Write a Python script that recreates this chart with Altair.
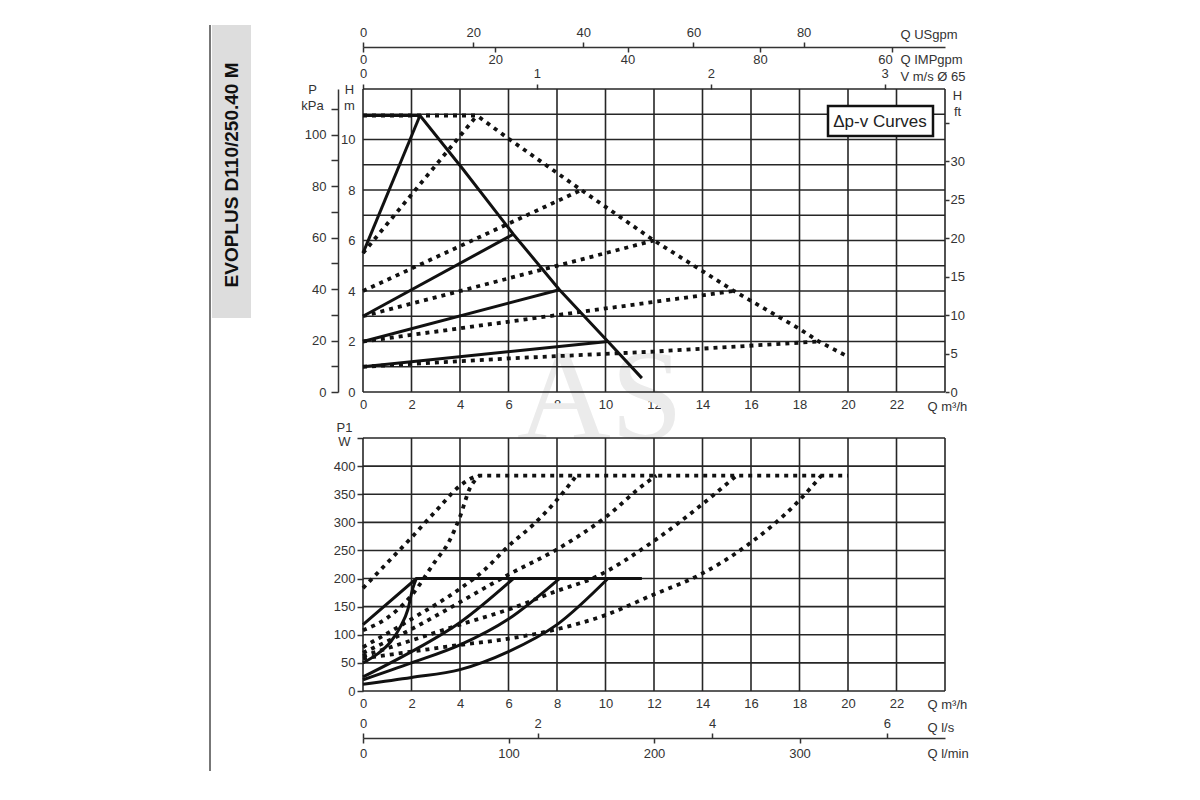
import altair as alt
import pandas as pd

# --- axis ticks / grid ---
q_grid = list(range(0, 25, 2))
q_labels = list(range(0, 23, 2))
h_grid = list(range(0, 13))
w_grid = list(range(0, 451, 50))
kpa_ticks = list(range(0, 111, 10))
ft_ticks = list(range(0, 36, 5))
usgpm_ticks = [0, 20, 40, 60, 80]
impgpm_ticks = [0, 20, 40, 60, 80]
vms_ticks = [0, 1, 2, 3]
ls_ticks = [0, 2, 4, 6]
lmin_ticks = [0, 100, 200, 300]

# --- upper diagram: H [m] over Q [m3/h] ---
top_max_q = [0, 2.35, 4.1, 6.2, 8.1, 10.1, 11.5]
top_max_h = [10.95, 10.95, 8.85, 6.25, 4.05, 2.0, 0.55]
top_s1_q, top_s1_h = [0, 2.35], [5.5, 10.95]
top_s2_q, top_s2_h = [0, 6.2], [3.0, 6.25]
top_s3_q, top_s3_h = [0, 8.1], [2.0, 4.05]
top_s4_q, top_s4_h = [0, 10.1], [1.0, 2.0]

top_dmax_q = [0, 4.7, 6.05, 9.0, 12.0, 15.3, 18.0, 18.8, 20.0]
top_dmax_h = [10.95, 10.95, 10.0, 8.0, 6.0, 4.0, 2.5, 2.0, 1.4]
top_d1_q, top_d1_h = [0, 4.7], [5.5, 10.95]
top_d2_q, top_d2_h = [0, 9.0], [4.0, 8.0]
top_d3_q, top_d3_h = [0, 12.0], [3.0, 6.0]
top_d4_q, top_d4_h = [0, 15.3], [2.0, 4.0]
top_d5_q, top_d5_h = [0, 6, 12, 18.8], [1.0, 1.33, 1.6, 2.0]

# --- lower diagram: P1 [W] over Q [m3/h] ---
bot_max_q, bot_max_p = [0, 2.2, 11.5], [118, 200, 200]
bot_s1_q = [0, 0.6, 1.15, 1.55, 1.85, 2.05, 2.2]
bot_s1_p = [50, 66, 88, 115, 145, 182, 200]
bot_s2_q, bot_s2_p = [0, 2, 4, 6.2], [25, 70, 122, 200]
bot_s3_q, bot_s3_p = [0, 2, 4, 6, 8.1], [20, 50, 82, 128, 200]
bot_s4_q, bot_s4_p = [0, 2, 4, 6, 8, 10.1], [12, 24, 38, 70, 118, 200]

bot_dmax_q = [0, 1, 2, 3, 4, 4.4, 4.8, 20]
bot_dmax_p = [183, 228, 273, 320, 365, 377, 383, 383]
bot_d1_q = [0, 1, 2, 3, 3.5, 4, 4.4, 4.8]
bot_d1_p = [108, 130, 170, 232, 262, 310, 360, 383]
bot_d2_q = [0, 2, 4, 5, 6, 7, 8, 8.8]
bot_d2_p = [78, 128, 182, 215, 258, 295, 340, 383]
bot_d3_q = [0, 2, 4, 6, 8, 10, 11.7, 12.1]
bot_d3_p = [68, 110, 158, 207, 252, 309, 371, 383]
bot_d4_q = [0, 2, 4, 6, 8, 9.5, 11.9, 13.9, 15.4]
bot_d4_p = [62, 90, 118, 145, 178, 201, 264, 329, 383]
bot_d5_q = [0, 2, 4, 6, 8, 10, 11.9, 13.9, 15.9, 17.9, 18.9]
bot_d5_p = [58, 70, 82, 93, 110, 135, 170, 207, 261, 335, 383]

# unit conversions (per 1 m3/h resp. 1 m)
KPA_PER_M = 9.81
FT_PER_M = 3.2808
USGPM = 4.4029
IMPGPM = 3.6661
M3H_PER_MS = 7.17
LS = 1 / 3.6
LMIN = 1000 / 60

Q_MAX, H_MAX, W_MAX = 24, 12, 450
W, H = 582, 602
TOP_H = 303


def table(curves, ycol):
    rows = []
    for name, qs, vs in curves:
        for i, (q, v) in enumerate(zip(qs, vs)):
            rows.append({"curve": name, "q": q, ycol: v, "i": i})
    return pd.DataFrame(rows)


top_solid = table([("max", top_max_q, top_max_h), ("s1", top_s1_q, top_s1_h),
                   ("s2", top_s2_q, top_s2_h), ("s3", top_s3_q, top_s3_h),
                   ("s4", top_s4_q, top_s4_h)], "h")
top_dotted = table([("max", top_dmax_q, top_dmax_h), ("d1", top_d1_q, top_d1_h),
                    ("d2", top_d2_q, top_d2_h), ("d3", top_d3_q, top_d3_h),
                    ("d4", top_d4_q, top_d4_h), ("d5", top_d5_q, top_d5_h)], "h")
bot_line = table([("max", bot_max_q, bot_max_p)], "p")
bot_solid = table([("s1", bot_s1_q, bot_s1_p), ("s2", bot_s2_q, bot_s2_p),
                   ("s3", bot_s3_q, bot_s3_p), ("s4", bot_s4_q, bot_s4_p)], "p")
bot_dotted = table([("max", bot_dmax_q, bot_dmax_p), ("d1", bot_d1_q, bot_d1_p),
                    ("d2", bot_d2_q, bot_d2_p), ("d3", bot_d3_q, bot_d3_p),
                    ("d4", bot_d4_q, bot_d4_p), ("d5", bot_d5_q, bot_d5_p)], "p")

Q_SCALE = alt.Scale(domain=[0, Q_MAX], nice=False)
H_SCALE = alt.Scale(domain=[0, H_MAX], range=[TOP_H, 0], nice=False)
W_SCALE = alt.Scale(domain=[0, W_MAX], range=[H, H - 253], nice=False)

INK = "#111111"
GRID = "#262626"
FONT = "Liberation Sans"


def lines(df, ycol, scale, dotted, interp="linear"):
    kw = dict(color=INK, strokeWidth=3, interpolate=interp, strokeCap="butt")
    if dotted:
        kw.update(strokeDash=[4, 5], strokeWidth=3.8)
    return alt.Chart(df).mark_line(**kw).encode(
        x=alt.X("q:Q", scale=Q_SCALE, axis=None),
        y=alt.Y(f"{ycol}:Q", scale=scale, axis=None),
        detail="curve:N",
        order="i:Q",
    )


def title_axis(**kw):
    base = dict(titleAngle=0, titleFontWeight="normal")
    base.update(kw)
    return alt.Axis(**base)


# --- grids with the main axes ---
top_vgrid = alt.Chart(pd.DataFrame({"q": q_grid, "lo": 0, "hi": H_MAX})).mark_rule(
    color=GRID, strokeWidth=1.6).encode(
    x=alt.X("q:Q", scale=Q_SCALE, axis=title_axis(
        orient="bottom", offset=TOP_H - H, values=q_labels, ticks=False, domain=False,
        labelPadding=6, title="Q m³/h", titleAlign="left", titleBaseline="alphabetic",
        titleX=564, titleY=18)),
    y=alt.Y("lo:Q", scale=H_SCALE, axis=None), y2="hi:Q")

top_hgrid = alt.Chart(pd.DataFrame({"h": h_grid, "lo": 0, "hi": Q_MAX})).mark_rule(
    color=GRID, strokeWidth=1.6).encode(
    y=alt.Y("h:Q", scale=H_SCALE, axis=title_axis(
        orient="left", values=h_grid, ticks=False, domain=False, labelPadding=8,
        labelExpr="datum.value % 2 == 0 && datum.value <= 10 ? datum.label : ''",
        title=["H", "m"], titleAlign="center", titleBaseline="top",
        titleX=-14, titleY=-6, titleLineHeight=16)),
    x=alt.X("lo:Q", scale=Q_SCALE, axis=None), x2="hi:Q")

bot_vgrid = alt.Chart(pd.DataFrame({"q": q_grid, "lo": 0, "hi": W_MAX})).mark_rule(
    color=GRID, strokeWidth=1.6).encode(
    x=alt.X("q:Q", scale=Q_SCALE, axis=title_axis(
        orient="bottom", values=q_labels, ticks=False, domain=False, labelPadding=6,
        title="Q m³/h", titleAlign="left", titleBaseline="alphabetic",
        titleX=564, titleY=17)),
    y=alt.Y("lo:Q", scale=W_SCALE, axis=None), y2="hi:Q")

bot_hgrid = alt.Chart(pd.DataFrame({"w": w_grid, "lo": 0, "hi": Q_MAX})).mark_rule(
    color=GRID, strokeWidth=1.6).encode(
    y=alt.Y("w:Q", scale=W_SCALE, axis=title_axis(
        orient="left", values=w_grid, tickSize=6, domain=False, labelPadding=2,
        labelExpr="datum.value <= 400 ? datum.label : ''",
        title=["P1", "W"], titleAlign="center", titleBaseline="top",
        titleX=-19, titleY=332, titleLineHeight=14)),
    x=alt.X("lo:Q", scale=Q_SCALE, axis=None), x2="hi:Q")


# --- secondary unit axes ---
def host(channel, values, scale, axis):
    df = pd.DataFrame({"v": values})
    enc = alt.X("v:Q", scale=scale, axis=axis) if channel == "x" else alt.Y("v:Q", scale=scale, axis=axis)
    return alt.Chart(df).mark_point(opacity=0).encode(**{channel: enc})


kpa_axis = host("y", kpa_ticks,
                alt.Scale(domain=[0, H_MAX * KPA_PER_M], range=[TOP_H, 0], nice=False),
                title_axis(orient="left", offset=25, values=kpa_ticks, tickSize=7,
                           labelPadding=5, domainWidth=1.5,
                           labelExpr="datum.value % 20 == 0 && datum.value <= 100 ? datum.label : ''",
                           title=["P", "kPa"], titleAlign="center", titleBaseline="top",
                           titleX=-26, titleY=-6, titleLineHeight=16))

ft_axis = host("y", ft_ticks,
               alt.Scale(domain=[0, H_MAX * FT_PER_M], range=[TOP_H, 0], nice=False),
               title_axis(orient="right", values=ft_ticks, tickSize=4, labelPadding=1,
                          domain=False, labelExpr="datum.value < 35 ? datum.label : ''",
                          title=["H", "ft"], titleAlign="center", titleBaseline="top",
                          titleX=12, titleY=0, titleLineHeight=16))

usgpm_axis = host("x", usgpm_ticks,
                  alt.Scale(domain=[0, Q_MAX * USGPM], nice=False),
                  title_axis(orient="top", offset=42, values=usgpm_ticks, tickSize=5,
                             labelPadding=3, domainWidth=1.5, title="Q USgpm",
                             titleAlign="left", titleBaseline="alphabetic",
                             titleX=537, titleY=-9))

impgpm_axis = host("x", impgpm_ticks,
                   alt.Scale(domain=[0, Q_MAX * IMPGPM], nice=False),
                   title_axis(orient="bottom", offset=-(H + 42), values=impgpm_ticks,
                              tickSize=5, labelPadding=1, domain=False,
                              labelAlign={"condition": {"test": "datum.value == 80", "value": "right"},
                                          "value": "center"},
                              labelExpr="datum.value == 60 ? '80' : datum.value == 80 ? '60' : datum.label",
                              title="Q IMPgpm", titleAlign="left", titleBaseline="alphabetic",
                              titleX=537, titleY=16))

vms_axis = host("x", vms_ticks,
                alt.Scale(domain=[0, Q_MAX / M3H_PER_MS], nice=False),
                title_axis(orient="top", values=vms_ticks, tickSize=5, labelPadding=4,
                           domain=False, title="V m/s Ø 65", titleAlign="left",
                           titleBaseline="alphabetic", titleX=537, titleY=-9))

ls_axis = host("x", ls_ticks,
               alt.Scale(domain=[0, Q_MAX * LS], nice=False),
               title_axis(orient="top", offset=-(H + 47), values=ls_ticks, tickSize=5,
                          labelPadding=3, domainWidth=1.5, title="Q l/s",
                          titleAlign="left", titleBaseline="alphabetic",
                          titleX=564, titleY=-7))

lmin_axis = host("x", lmin_ticks,
                 alt.Scale(domain=[0, Q_MAX * LMIN], nice=False),
                 title_axis(orient="bottom", offset=47, values=lmin_ticks, tickSize=5,
                            labelPadding=4, domain=False, title="Q l/min",
                            titleAlign="left", titleBaseline="alphabetic",
                            titleX=564, titleY=19))

# --- annotations ---
one = pd.DataFrame({"t": ["Δp-v Curves"]})
box = alt.Chart(one).mark_rect(fill="white", stroke=INK, strokeWidth=2.5).encode(
    x=alt.value(465), x2=alt.value(570), y=alt.value(17), y2=alt.value(47))
box_text = alt.Chart(one).mark_text(font=FONT, fontSize=17, color="#222").encode(
    text="t:N", x=alt.value(517), y=alt.value(33))

side = pd.DataFrame({"t": ["EVOPLUS D110/250.40 M"]})
side_bar = alt.Chart(side).mark_rect(fill="#dddddd").encode(
    x=alt.value(-151), x2=alt.value(-112), y=alt.value(-64), y2=alt.value(229))
side_line = alt.Chart(side).mark_rule(color="#777777", strokeWidth=2).encode(
    x=alt.value(-153), y=alt.value(-64), y2=alt.value(686))
side_text = alt.Chart(side).mark_text(font=FONT, fontSize=19, fontWeight="bold",
                                      angle=270, color="#111").encode(
    text="t:N", x=alt.value(-131), y=alt.value(86))

mark = pd.DataFrame({"t": ["AS"]})
watermark = alt.Chart(mark).mark_text(font="Liberation Serif", fontSize=130,
                                      color="#ebebeb").encode(
    text="t:N", x=alt.value(237), y=alt.value(311))

chart = alt.layer(
    watermark, side_bar, side_line, side_text,
    top_vgrid, top_hgrid, bot_vgrid, bot_hgrid,
    lines(top_solid, "h", H_SCALE, False),
    lines(top_dotted, "h", H_SCALE, True),
    lines(bot_line, "p", W_SCALE, False),
    lines(bot_solid, "p", W_SCALE, False, "monotone"),
    lines(bot_dotted, "p", W_SCALE, True, "monotone"),
    kpa_axis, ft_axis, usgpm_axis, impgpm_axis, vms_axis, ls_axis, lmin_axis,
    box, box_text,
).resolve_scale(
    x="independent", y="independent"
).properties(
    width=W, height=H,
    autosize=alt.AutoSizeParams(type="none"),
    padding={"left": 355, "top": 81, "right": 230, "bottom": 80},
).configure_view(
    stroke=None
).configure_axis(
    grid=False, labelFlush=False, labelFont=FONT, labelFontSize=13, labelColor="#333",
    titleFont=FONT, titleFontSize=13, titleColor="#333",
    domainColor="#333", tickColor="#333", tickWidth=1.5,
)

chart.save("out.html", embed_options={"renderer": "svg", "actions": False})
